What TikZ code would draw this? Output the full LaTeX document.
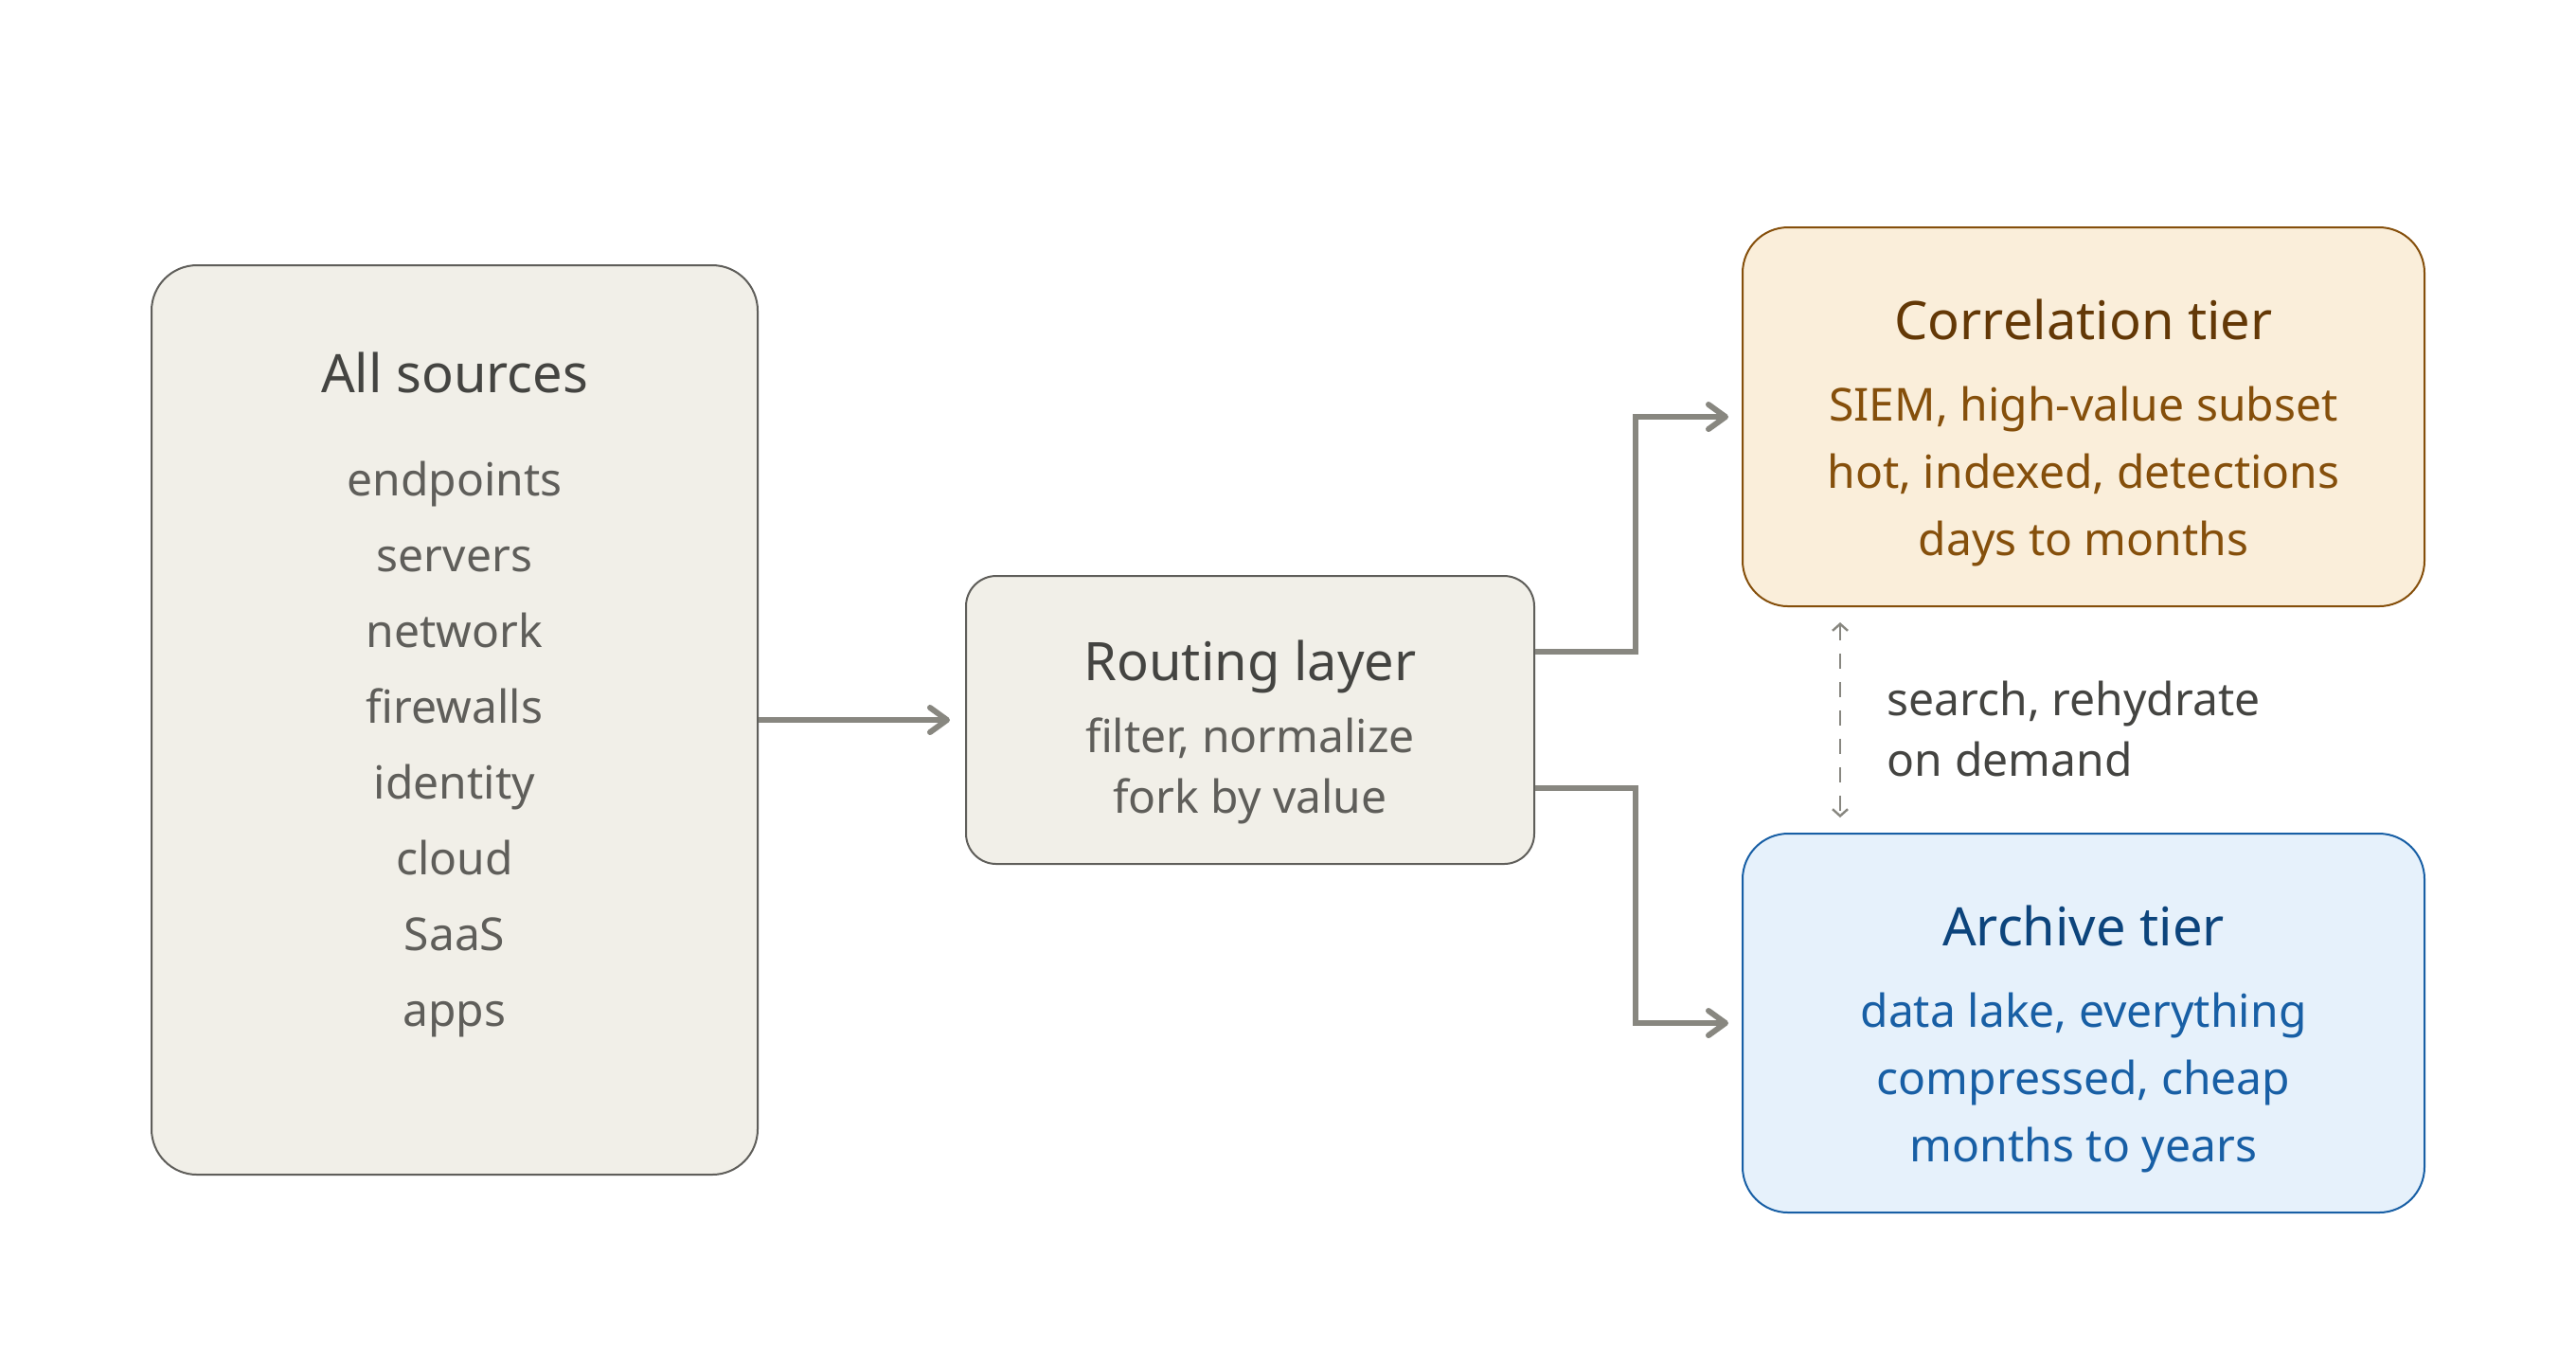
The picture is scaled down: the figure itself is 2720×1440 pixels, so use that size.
\documentclass[tikz,border=0pt]{standalone}
\usepackage{fontspec}
\setmainfont{Noto Sans}
\usepackage{tikz}
\usetikzlibrary{arrows.meta}
\definecolor{srcfill}{HTML}{F1EFE8}
\definecolor{srcline}{HTML}{5F5E5A}
\definecolor{srctitle}{HTML}{444441}
\definecolor{corrfill}{HTML}{FAEEDA}
\definecolor{corrline}{HTML}{854F0B}
\definecolor{corrtitle}{HTML}{633806}
\definecolor{archfill}{HTML}{E6F1FB}
\definecolor{archline}{HTML}{185FA5}
\definecolor{archtitle}{HTML}{0C447C}
\definecolor{flowgray}{HTML}{888780}

\begin{document}
\begin{tikzpicture}[
  x=0.25pt,y=-0.25pt,
  box/.style={rectangle,draw=srcline,fill=srcfill,line width=0.5pt,rounded corners=12pt,inner sep=0pt},
  corrbox/.style={box,draw=corrline,fill=corrfill},
  archbox/.style={box,draw=archline,fill=archfill},
  title/.style={anchor=base,inner sep=0pt,text=srctitle,font=\fontsize{14}{17}\selectfont},
  item/.style={anchor=base,inner sep=0pt,text=srcline,font=\fontsize{12}{15}\selectfont},
  flow/.style={draw=flowgray,line width=1.5pt,-{Straight Barb[length=4.5pt,width=6.5pt,round]}},
  link/.style={draw=flowgray,line width=0.6pt,dash pattern=on 4pt off 3.5pt,
    {Straight Barb[length=1.8pt,width=4pt]}-{Straight Barb[length=1.8pt,width=4pt]}}
]
\useasboundingbox (0,0) rectangle (2720,1440);

% boxes
\node[box,minimum width=160pt,minimum height=240pt] (src) at (480,760) {};
\node[box,minimum width=150pt,minimum height=76pt,rounded corners=8pt] (route) at (1320,760) {};
\node[corrbox,minimum width=180pt,minimum height=100pt] (corr) at (2200,440) {};
\node[archbox,minimum width=180pt,minimum height=100pt] (arch) at (2200,1080) {};

% all sources
\node[title] (srct) at (480,414) {All sources};
\foreach \name [count=\i from 0] in {endpoints,servers,network,firewalls,identity,cloud,SaaS,apps}
  \node[item] (s\i) at (480,{523+80*\i}) {\name};

% routing layer
\node[title] (routet) at (1320,718) {Routing layer};
\node[item] (route1) at (1320,794) {filter, normalize};
\node[item] (route2) at (1320,858) {fork by value};

% correlation tier
\node[title,text=corrtitle] (corrt) at (2200,358) {Correlation tier};
\node[item,text=corrline] (corr1) at (2200,444) {SIEM, high-value subset};
\node[item,text=corrline] (corr2) at (2200,515) {hot, indexed, detections};
\node[item,text=corrline] (corr3) at (2200,586) {days to months};

% archive tier
\node[title,text=archtitle] (archt) at (2200,998) {Archive tier};
\node[item,text=archline] (arch1) at (2200,1084) {data lake, everything};
\node[item,text=archline] (arch2) at (2200,1155) {compressed, cheap};
\node[item,text=archline] (arch3) at (2200,1226) {months to years};

% on demand
\node[item,anchor=base west,text=srctitle] (dem1) at (1992,755) {search, rehydrate};
\node[item,anchor=base west,text=srctitle] (dem2) at (1992,819) {on demand};

\draw[flow,shorten >=4pt] (src.east) -- (route.west);
\draw[flow,shorten >=3.5pt] ([yshift=18pt]route.east) -| ([xshift=-28pt]corr.west) -- (corr.west);
\draw[flow,shorten >=3.5pt] ([yshift=-18pt]route.east) -| ([xshift=-28pt]arch.west) -- (arch.west);
\draw[link,shorten <=4pt,shorten >=4pt] ([xshift=26pt]corr.south west) -- ([xshift=26pt]arch.north west);
\end{tikzpicture}
\end{document}
